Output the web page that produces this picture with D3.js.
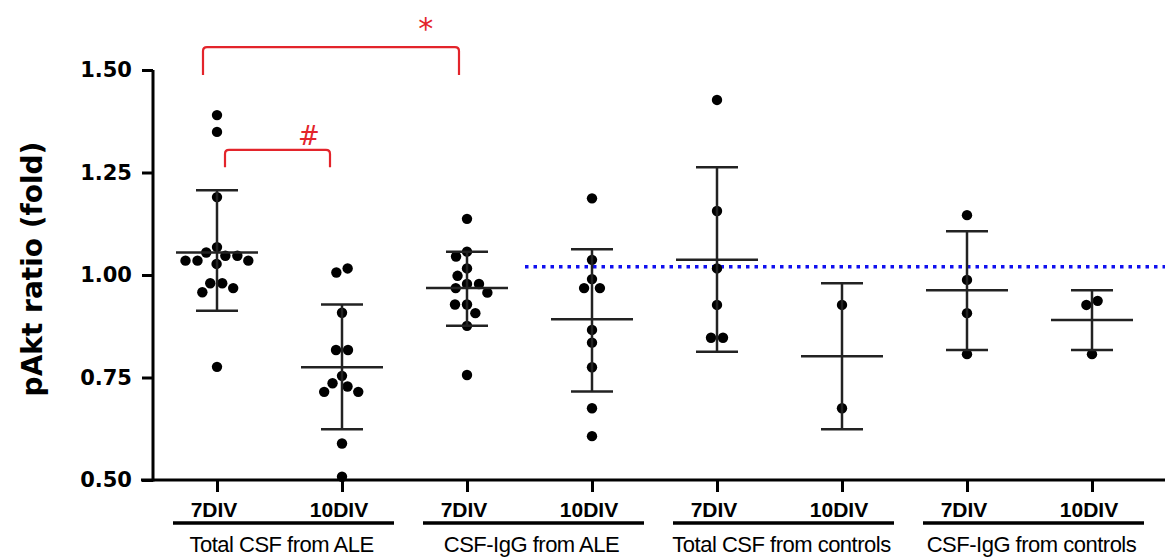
<!DOCTYPE html>
<html>
<head>
<meta charset="utf-8">
<script src="https://cdn.jsdelivr.net/npm/d3@7/dist/d3.min.js"></script>
<style>
  body { margin: 0; background: #fff; }
  .axis path, .axis line { stroke: #000; stroke-width: 3; }
  .axis text { font-family: "DejaVu Sans", sans-serif; font-weight: bold; font-size: 21px; fill: #000; }
</style>
</head>
<body>
<svg id="chart" width="1165" height="559"></svg>
<script>
var conditions = ["7DIV", "10DIV", "7DIV", "10DIV", "7DIV", "10DIV", "7DIV", "10DIV"];
var groupNames = ["Total CSF from ALE", "CSF-IgG from ALE", "Total CSF from controls", "CSF-IgG from controls"];
var yTicks = [0.50, 0.75, 1.00, 1.25, 1.50];

// individual values per condition
var points = [
  [1.390, 1.349, 1.190, 1.068, 1.055, 1.047, 1.047, 1.035, 1.035, 1.035, 1.027, 0.980, 0.980, 0.968, 0.958, 0.776],
  [1.016, 1.006, 0.908, 0.817, 0.817, 0.754, 0.736, 0.728, 0.715, 0.715, 0.589, 0.508],
  [1.137, 1.057, 1.045, 1.016, 0.998, 0.978, 0.978, 0.968, 0.957, 0.928, 0.928, 0.907, 0.876, 0.756],
  [1.187, 1.037, 0.990, 0.968, 0.968, 0.866, 0.835, 0.775, 0.675, 0.607],
  [1.427, 1.156, 1.016, 0.927, 0.847, 0.847],
  [0.927, 0.675],
  [1.146, 0.988, 0.907, 0.807],
  [0.937, 0.927, 0.807]
];
var means = [1.055, 0.775, 0.968, 0.892, 1.037, 0.802, 0.963, 0.890];
var upper = [1.207, 0.928, 1.057, 1.063, 1.263, 0.980, 1.107, 0.963];
var lower = [0.913, 0.624, 0.876, 0.716, 0.813, 0.624, 0.817, 0.817];
var refLine = 1.02;
var brackets = [
  {from: 0, to: 2, top: 1.556, bottom: 1.488, label: "*"},
  {from: 0, to: 1, top: 1.305, bottom: 1.263, label: "#"}
];

var svg = d3.select("#chart");
var red = "#e3242b";

var x = d3.scalePoint()
    .domain(d3.range(conditions.length))
    .range([217, 1092]);

var y = d3.scaleLinear()
    .domain([0.5, 1.5])
    .range([480, 70]);

// y axis
var yAxis = svg.append("g")
    .attr("class", "axis")
    .attr("transform", "translate(153,0)")
    .call(d3.axisLeft(y).tickValues(yTicks).tickFormat(d3.format(".2f")).tickSize(11).tickPadding(10).tickSizeOuter(0));
yAxis.select(".domain").attr("d", "M0," + y(1.5) + "V" + (y(0.5) + 1.5));

// x axis line with ticks
var xAxis = svg.append("g")
    .attr("class", "axis")
    .attr("transform", "translate(0," + y(0.5) + ")")
    .call(d3.axisBottom(x).tickSize(12).tickFormat(""));
xAxis.select(".domain").attr("d", "M141,0H1165");

svg.append("text")
    .attr("transform", "translate(42,269) rotate(-90)")
    .attr("text-anchor", "middle")
    .style("font-family", "DejaVu Sans, sans-serif")
    .style("font-weight", "bold")
    .style("font-size", "28px")
    .text("pAkt ratio (fold)");

// condition labels
svg.append("g").selectAll("text")
    .data(conditions)
  .enter().append("text")
    .attr("x", function(d, i) { return x(i) - 3; })
    .attr("y", 517)
    .attr("text-anchor", "middle")
    .style("font-family", "Liberation Sans, Arial, sans-serif")
    .style("font-weight", "bold")
    .style("font-size", "21px")
    .text(function(d) { return d; });

// group underline + name
var grp = svg.append("g").selectAll("g")
    .data(groupNames)
  .enter().append("g");

grp.append("line")
    .attr("x1", function(d, i) { return x(2 * i) - 44; })
    .attr("x2", function(d, i) { return x(2 * i + 1) + 52; })
    .attr("y1", 523).attr("y2", 523)
    .attr("stroke", "#000")
    .attr("stroke-width", 3.5);

grp.append("text")
    .attr("x", function(d, i) { return (x(2 * i) + x(2 * i + 1)) / 2 + 2; })
    .attr("y", 552)
    .attr("text-anchor", "middle")
    .style("font-family", "Liberation Sans, Arial, sans-serif")
    .style("font-size", "22px")
    .style("letter-spacing", "-0.5px")
    .text(function(d) { return d; });

// reference line
svg.append("line")
    .attr("x1", x(2) + 58).attr("x2", 1165)
    .attr("y1", y(refLine)).attr("y2", y(refLine))
    .attr("stroke", "#1010ee")
    .attr("stroke-width", 3.5)
    .attr("stroke-dasharray", "3.5,5");

// simple beeswarm so the dots do not overlap
function swarm(vals) {
  var D = 12, placed = [];
  vals.slice().sort(d3.descending).forEach(function(v) {
    var py = y(v);
    var near = placed.filter(function(q) { return Math.abs(q.y - py) < D; });
    var cands = [0];
    near.forEach(function(q) {
      var dx = Math.sqrt(D * D - (q.y - py) * (q.y - py));
      cands.push(q.dx - dx, q.dx + dx);
    });
    cands.sort(function(a, b) { return Math.abs(a) - Math.abs(b) || a - b; });
    var best = cands.find(function(c) {
      return near.every(function(q) { return (q.dx - c) * (q.dx - c) + (q.y - py) * (q.y - py) >= D * D - 0.01; });
    });
    placed.push({v: v, y: py, dx: best});
  });
  // centre single rows (e.g. pairs of equal values) on the column
  var clusters = [], cur = [];
  placed.forEach(function(p, k) {
    if (k && p.y - placed[k - 1].y >= D) { clusters.push(cur); cur = []; }
    cur.push(p);
  });
  clusters.push(cur);
  clusters.forEach(function(c) {
    if (c.length > 1 && c[c.length - 1].y - c[0].y < D) {
      var m = d3.mean(c, function(p) { return p.dx; });
      c.forEach(function(p) { p.dx -= m; });
    }
  });
  return placed;
}

var cond = svg.append("g").selectAll("g")
    .data(d3.range(conditions.length))
  .enter().append("g")
    .attr("transform", function(i) { return "translate(" + x(i) + ",0)"; });

cond.selectAll("circle")
    .data(function(i) { return swarm(points[i]); })
  .enter().append("circle")
    .attr("cx", function(d) { return d.dx; })
    .attr("cy", function(d) { return d.y; })
    .attr("r", 5.2)
    .attr("fill", "#000");

var bars = cond.append("g")
    .attr("stroke", "#222")
    .attr("stroke-width", 2.5);
bars.append("line")
    .attr("x1", 0).attr("x2", 0)
    .attr("y1", function(i) { return y(upper[i]); })
    .attr("y2", function(i) { return y(lower[i]); });
bars.append("line")
    .attr("x1", -41).attr("x2", 41)
    .attr("y1", function(i) { return y(means[i]); })
    .attr("y2", function(i) { return y(means[i]); });
bars.append("line")
    .attr("x1", -21).attr("x2", 21)
    .attr("y1", function(i) { return y(upper[i]); })
    .attr("y2", function(i) { return y(upper[i]); });
bars.append("line")
    .attr("x1", -21).attr("x2", 21)
    .attr("y1", function(i) { return y(lower[i]); })
    .attr("y2", function(i) { return y(lower[i]); });

// significance brackets
var br = svg.append("g").selectAll("g")
    .data(brackets)
  .enter().append("g");

function bx(d) {
  return d.label === "*" ? [x(d.from) - 14, x(d.to) - 8] : [x(d.from) + 8, x(d.to) - 12];
}

br.append("path")
    .attr("fill", "none")
    .attr("stroke", red)
    .attr("stroke-width", 2.2)
    .attr("d", function(d) {
      var e = bx(d), t = y(d.top), b = y(d.bottom), r = 4;
      return "M" + e[0] + "," + b + "V" + (t + r) + "Q" + e[0] + "," + t + " " + (e[0] + r) + "," + t +
        "H" + (e[1] - r) + "Q" + e[1] + "," + t + " " + e[1] + "," + (t + r) + "V" + b;
    });

br.append("text")
    .attr("x", function(d) { var e = bx(d); return e[0] + (e[1] - e[0]) * (d.label === "*" ? 0.87 : 0.8); })
    .attr("y", function(d) { return d.label === "*" ? 39 : 145; })
    .attr("text-anchor", "middle")
    .attr("fill", red)
    .style("font-family", "DejaVu Sans, sans-serif")
    .style("font-size", function(d) { return d.label === "*" ? "30px" : "26px"; })
    .text(function(d) { return d.label; });
</script>
</body>
</html>
